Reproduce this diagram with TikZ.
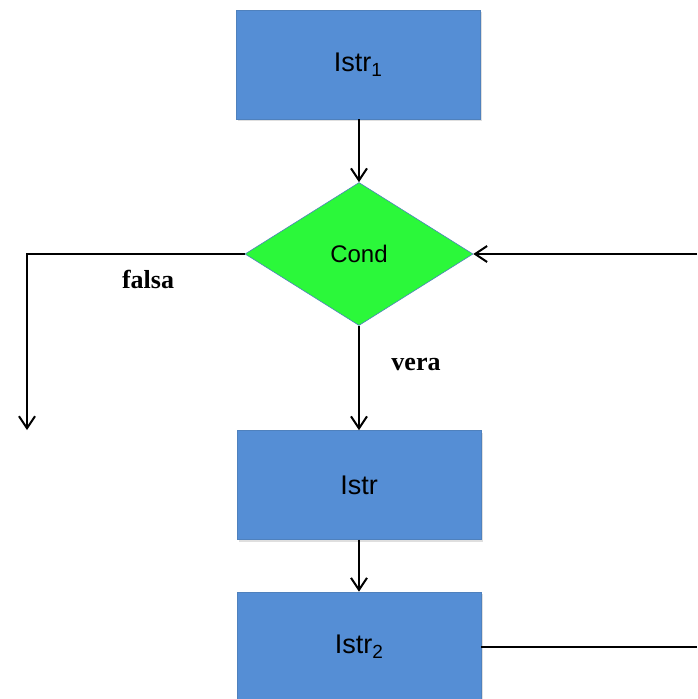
\documentclass[tikz,border=0pt]{standalone}
\usepackage{fontspec}
\setmainfont{Liberation Sans}
\newfontfamily\serifb{Liberation Serif}
\usetikzlibrary{arrows.meta,shapes.geometric,shadows}
\definecolor{boxblue}{HTML}{558ED5}
\definecolor{condgreen}{HTML}{2BF83A}
\definecolor{edgeblue}{HTML}{4F81BD}
\newcommand{\mysub}[1]{\raisebox{-0.35ex}{\fontsize{19}{22}\selectfont #1}}
\begin{document}
\begin{tikzpicture}[x=1pt,y=-1pt,
  box/.style={draw=edgeblue, line width=0.6pt, fill=boxblue, minimum width=244pt, minimum height=109pt, inner sep=0pt, font=\fontsize{27}{30}\selectfont, drop shadow={shadow xshift=2pt,shadow yshift=-2pt,opacity=0.25}},
  cond/.style={diamond, draw=edgeblue, line width=0.6pt, fill=condgreen, minimum width=228pt, minimum height=143pt, inner sep=0pt, font=\fontsize{24}{28}\selectfont},
  lbl/.style={font=\serifb\bfseries\fontsize{26}{30}\selectfont},
  conn/.style={line width=2pt, draw=black},
  arr/.style={conn, -{Straight Barb[length=12pt,width=16pt,line width=2pt]}}
]
\useasboundingbox (0,0) rectangle (697,699);
\node[box] (i1) at (358,64.5) {Istr\mysub{1}};
\node[cond] (c) at (359,254) {Cond};
\node[box] (is) at (359,485) {Istr};
\node[box] (i2) at (359,646.5) {Istr\mysub{2}};
\coordinate (fl) at (27,254);
\coordinate (fe) at (27,430);
\coordinate (rb) at (697,646.5);
\coordinate (rt) at (697,254);
\draw[arr] (c.north |- i1.south) -- (c.north);
\draw[arr] (c.west) -- (fl) -- (fe);
\draw[arr] (c.south) -- (is.north);
\draw[arr] (is.south) -- (i2.north);
\draw[conn] (i2.east) -- (rb);
\draw[arr] (rt) -- (c.east);
\node[lbl] (fa) at (148,279) {falsa};
\node[lbl] (ve) at (416,364) {vera};
\end{tikzpicture}
\end{document}
